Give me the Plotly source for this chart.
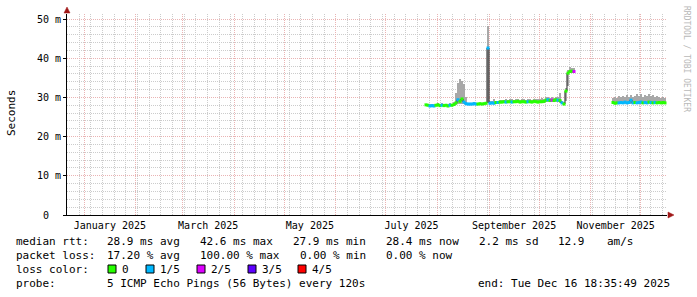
import plotly.graph_objects as go
import pandas as pd

# ---------------- data ----------------
X_START = "2024-12-21 18:35:49"
X_END = "2025-12-16 18:35:49"
STEP_HOURS = 28.8

seg1_start = "2025-07-25 04:00"
seg1_median = [28.1, 28.0, 27.8, 27.9, 27.8, 28.0, 28.1, 27.9, 28.0, 27.9,
               28.0, 27.8, 28.0, 28.0, 28.2, 28.6, 29.4, 29.0, 29.6, 28.8,
               28.4, 28.3, 28.3, 28.3, 28.4, 28.3, 28.3, 28.4, 28.3, 28.4,
               28.5, 42.6, 28.5, 28.6, 28.5, 28.7, 28.7, 28.8, 28.8, 28.9,
               28.8, 28.9, 28.9, 28.8, 28.9, 28.9, 29.0, 28.8, 28.9, 28.9,
               28.8, 28.9, 28.9, 28.8, 29.0, 28.9, 28.8, 28.9, 28.9, 29.0,
               29.3, 29.4, 29.2, 29.3, 29.2, 29.4, 29.3, 29.2, 28.6, 28.3,
               31.6, 36.2, 36.6, 36.7, 36.6]
seg1_lo = [27.9, 27.8, 27.6, 27.7, 27.6, 27.8, 27.9, 27.7, 27.8, 27.7,
           27.8, 27.6, 27.8, 27.8, 27.9, 28.0, 28.2, 28.2, 28.3, 28.2,
           28.1, 28.1, 28.1, 28.1, 28.1, 28.1, 28.1, 28.2, 28.1, 28.2,
           28.2, 28.5, 28.3, 28.3, 28.3, 28.4, 28.4, 28.5, 28.5, 28.6,
           28.5, 28.6, 28.6, 28.5, 28.6, 28.6, 28.6, 28.5, 28.6, 28.6,
           28.5, 28.6, 28.6, 28.5, 28.6, 28.6, 28.5, 28.6, 28.6, 28.6,
           28.8, 28.9, 28.8, 28.8, 28.8, 28.9, 28.8, 28.7, 28.2, 28.0,
           29.0, 33.0, 36.2, 36.3, 36.2]
seg1_hi = [28.4, 28.4, 28.3, 28.3, 28.2, 28.4, 28.5, 28.4, 28.5, 28.3,
           28.4, 28.3, 28.5, 28.4, 28.8, 31.0, 33.6, 34.6, 34.3, 33.5,
           30.2, 28.7, 28.6, 28.6, 28.8, 28.6, 28.7, 28.7, 28.6, 28.7,
           28.9, 48.2, 29.0, 29.0, 29.6, 29.1, 29.2, 29.3, 29.4, 29.3,
           29.5, 29.4, 29.5, 29.6, 29.4, 29.5, 29.6, 29.3, 29.5, 29.6,
           29.4, 29.5, 29.6, 29.4, 29.6, 29.5, 29.7, 29.6, 29.8, 29.7,
           30.0, 30.1, 29.9, 30.0, 29.9, 30.2, 30.0, 31.0, 29.2, 28.8,
           32.5, 37.0, 37.8, 37.6, 37.5]
seg1_loss = [0, 0, 1, 1, 1, 0, 0, 0, 1, 0,
             0, 0, 1, 0, 0, 0, 1, 0, 0, 1,
             1, 1, 1, 1, 1, 1, 0, 0, 0, 0,
             0, 1, 1, 1, 1, 0, 1, 0, 0, 0,
             1, 0, 0, 1, 0, 0, 0, 0, 0, 0,
             0, 1, 0, 0, 0, 0, 0, 0, 0, 0,
             0, 1, 0, 2, 0, 0, 1, 0, 1, 0,
             0, 0, 0, 0, 2]

seg2_start = "2025-11-14 09:00"
seg2_median = [28.7, 28.5, 28.6, 28.6, 28.7, 28.6, 28.8, 28.6, 28.7, 29.3,
               28.6, 28.7, 28.6, 28.7, 28.8, 28.6, 28.7, 28.6, 28.8, 28.7,
               28.6, 28.7, 28.6, 28.7, 28.6, 28.7, 28.6]
seg2_lo = [28.3, 28.2, 28.3, 28.3, 28.3, 28.3, 28.4, 28.3, 28.3, 28.4,
           28.3, 28.3, 28.3, 28.3, 28.4, 28.3, 28.3, 28.3, 28.4, 28.3,
           28.3, 28.3, 28.3, 28.3, 28.3, 28.3, 28.3]
seg2_hi = [29.9, 30.2, 29.8, 30.4, 30.0, 30.3, 30.1, 30.5, 30.2, 30.6,
           30.1, 30.4, 30.8, 30.3, 30.9, 30.2, 30.7, 30.4, 30.8, 30.3,
           30.6, 30.1, 30.4, 30.0, 29.8, 30.2, 29.9]
seg2_loss = [0, 0, 0, 1, 1, 1, 1, 1, 1, 1,
             1, 0, 1, 1, 1, 0, 1, 1, 0, 1,
             0, 1, 0, 0, 0, 0, 0]

loss_colors = ["#26ff00", "#00b8ff", "#dd00ff", "#5e00ff", "#ff0000"]
loss_labels = ["0", "1/5", "2/5", "3/5", "4/5"]

x_label_vals = ["2025-01-16 12:00", "2025-03-16 12:00", "2025-05-16 12:00",
                "2025-07-16 12:00", "2025-09-16 00:00", "2025-11-16 00:00"]
x_label_text = ["January 2025", "March 2025", "May 2025",
                "July 2025", "September 2025", "November 2025"]

# ---------------- geometry ----------------
W, H = 697, 297
L, R, T, B = 67, 30, 14, 82
PW, PH = W - L - R, H - T - B
MONO = "DejaVu Sans Mono"
Y_RANGE = [0, PH / 3.92]


def px(x):
    return (x - L) / PW


def py(y):
    return (H - B - y) / PH


step = pd.Timedelta(hours=STEP_HOURS)
step_ms = step.total_seconds() * 1000
d1 = list(pd.date_range(start=seg1_start, periods=len(seg1_median), freq=step))
d2 = list(pd.date_range(start=seg2_start, periods=len(seg2_median), freq=step))

dates = d1 + d2
med = seg1_median + seg2_median
lo = seg1_lo + seg2_lo
hi = seg1_hi + seg2_hi
loss = seg1_loss + seg2_loss

fig = go.Figure()

# smoke
fig.add_trace(go.Bar(
    x=dates, y=[h - l for h, l in zip(hi, lo)], base=lo, width=step_ms,
    marker=dict(color="#a8a8a8", line=dict(width=0)), hoverinfo="skip"))

# dark median connector line
line_x = d1 + [d1[-1] + step] + d2
line_y = seg1_median + [None] + seg2_median
fig.add_trace(go.Scatter(
    x=line_x, y=line_y, mode="lines", line=dict(color="#202020", width=1, shape="hvh"),
    connectgaps=False, hoverinfo="skip"))

# loss-coloured median
fig.add_trace(go.Scatter(
    x=dates, y=med, mode="markers",
    marker=dict(symbol="square", size=3, color=[loss_colors[k] for k in loss],
                line=dict(width=0)),
    hoverinfo="skip"))

# invisible traces so the overlay axes exist
for xa, ya in (("x2", "y"), ("x3", "y"), ("x", "y2")):
    fig.add_trace(go.Scatter(x=[X_START, X_END], y=[None, None], xaxis=xa, yaxis=ya,
                             mode="lines", hoverinfo="skip"))

grid_minor = "#cccccc"
grid_major = "#eab4b4"
DASH = "1px,1px"

fig.update_layout(
    width=W, height=H, margin=dict(l=L, r=R, t=T, b=B),
    paper_bgcolor="white", plot_bgcolor="white",
    showlegend=False, barmode="overlay", bargap=0,
    font=dict(family=MONO, size=10, color="black"),
    # weekly minor grid
    xaxis=dict(
        type="date", range=[X_START, X_END],
        tickmode="linear", tick0="2024-12-29", dtick=7 * 86400000,
        showgrid=True, gridcolor=grid_minor, griddash=DASH, gridwidth=1,
        showticklabels=False, ticks="", zeroline=False,
        showline=True, linecolor="black", linewidth=1,
    ),
    # month labels
    xaxis2=dict(
        type="date", range=[X_START, X_END], overlaying="x", side="bottom",
        anchor="y", showgrid=False, zeroline=False, showline=False,
        tickmode="array", tickvals=x_label_vals, ticktext=x_label_text,
        ticks="", tickfont=dict(family=MONO, size=10, color="black"),
        ticklabelstandoff=3,
    ),
    # monthly major grid
    xaxis3=dict(
        type="date", range=[X_START, X_END], overlaying="x", side="bottom",
        anchor="y", tick0="2025-01-01", dtick="M1",
        showgrid=True, gridcolor=grid_major, griddash=DASH, gridwidth=1,
        showticklabels=False, ticks="", zeroline=False, showline=False,
    ),
    # minor y grid (2 ms)
    yaxis=dict(
        range=Y_RANGE, tickmode="linear", tick0=0, dtick=2,
        showgrid=True, gridcolor=grid_minor, griddash=DASH,
        showticklabels=False, ticks="", zeroline=False,
        showline=True, linecolor="black", linewidth=1,
    ),
    # major y grid + labels (10 ms)
    yaxis2=dict(
        range=Y_RANGE, overlaying="y", side="left", anchor="x",
        tickmode="linear", tick0=0, dtick=10, ticksuffix=" m",
        labelalias={"0 m": "0\u00a0\u00a0"},
        showgrid=True, gridcolor=grid_major, griddash=DASH, zeroline=False,
        ticks="outside", ticklen=3, tickcolor="black",
        tickfont=dict(family=MONO, size=10, color="black"),
        showline=False,
    ),
)

ann = []
ann.append(dict(x=px(11), y=py(113), xref="paper", yref="paper", text="Seconds",
                textangle=-90, showarrow=False, xanchor="center", yanchor="middle",
                font=dict(family=MONO, size=11, color="black")))
ann.append(dict(x=px(686), y=py(59), xref="paper", yref="paper",
                text="RRDTOOL / TOBI OETIKER", textangle=90, showarrow=False,
                xanchor="center", yanchor="middle",
                font=dict(family=MONO, size=8, color="#b8b8b8")))

legend_rows = [
    (241, [(16, "median rtt:"), (107, "28.9 ms avg"), (200, "42.6 ms max"),
           (293, "27.9 ms min"), (386, "28.4 ms now"), (479, "2.2 ms sd"),
           (558, "12.9"), (607, "am/s")]),
    (255, [(16, "packet loss:"), (107, "17.20 % avg"), (200, "100.00 % max"),
           (300, "0.00 % min"), (386, "0.00 % now")]),
    (269, [(16, "loss color:"), (122, loss_labels[0]), (160, loss_labels[1]),
           (211, loss_labels[2]), (262, loss_labels[3]), (312, loss_labels[4])]),
    (283, [(16, "probe:"), (107, "5 ICMP Echo Pings (56 Bytes) every 120s"),
           (478, "end: Tue Dec 16 18:35:49 2025")]),
]
for yrow, items in legend_rows:
    for xpos, txt in items:
        ann.append(dict(x=px(xpos - 2), y=py(yrow), xref="paper", yref="paper",
                        text=txt, showarrow=False, xanchor="left", yanchor="middle",
                        font=dict(family=MONO, size=11, color="black")))
fig.update_layout(annotations=ann)

shapes = []
for xs, col in zip([108, 146, 197, 248, 298], loss_colors):
    shapes.append(dict(type="rect", xref="paper", yref="paper",
                       x0=px(xs), x1=px(xs + 8), y0=py(273), y1=py(265),
                       fillcolor=col, line=dict(color="black", width=1)))
arrow_col = "#a01818"
shapes.append(dict(type="path", xref="paper", yref="paper",
                   path=f"M {px(64)} {py(13)} L {px(70)} {py(13)} L {px(67)} {py(7)} Z",
                   fillcolor=arrow_col, line=dict(color=arrow_col, width=0.5)))
shapes.append(dict(type="path", xref="paper", yref="paper",
                   path=f"M {px(668)} {py(212)} L {px(668)} {py(218)} L {px(674)} {py(215)} Z",
                   fillcolor=arrow_col, line=dict(color=arrow_col, width=0.5)))
fig.update_layout(shapes=shapes)

fig.write_html("out.html")
